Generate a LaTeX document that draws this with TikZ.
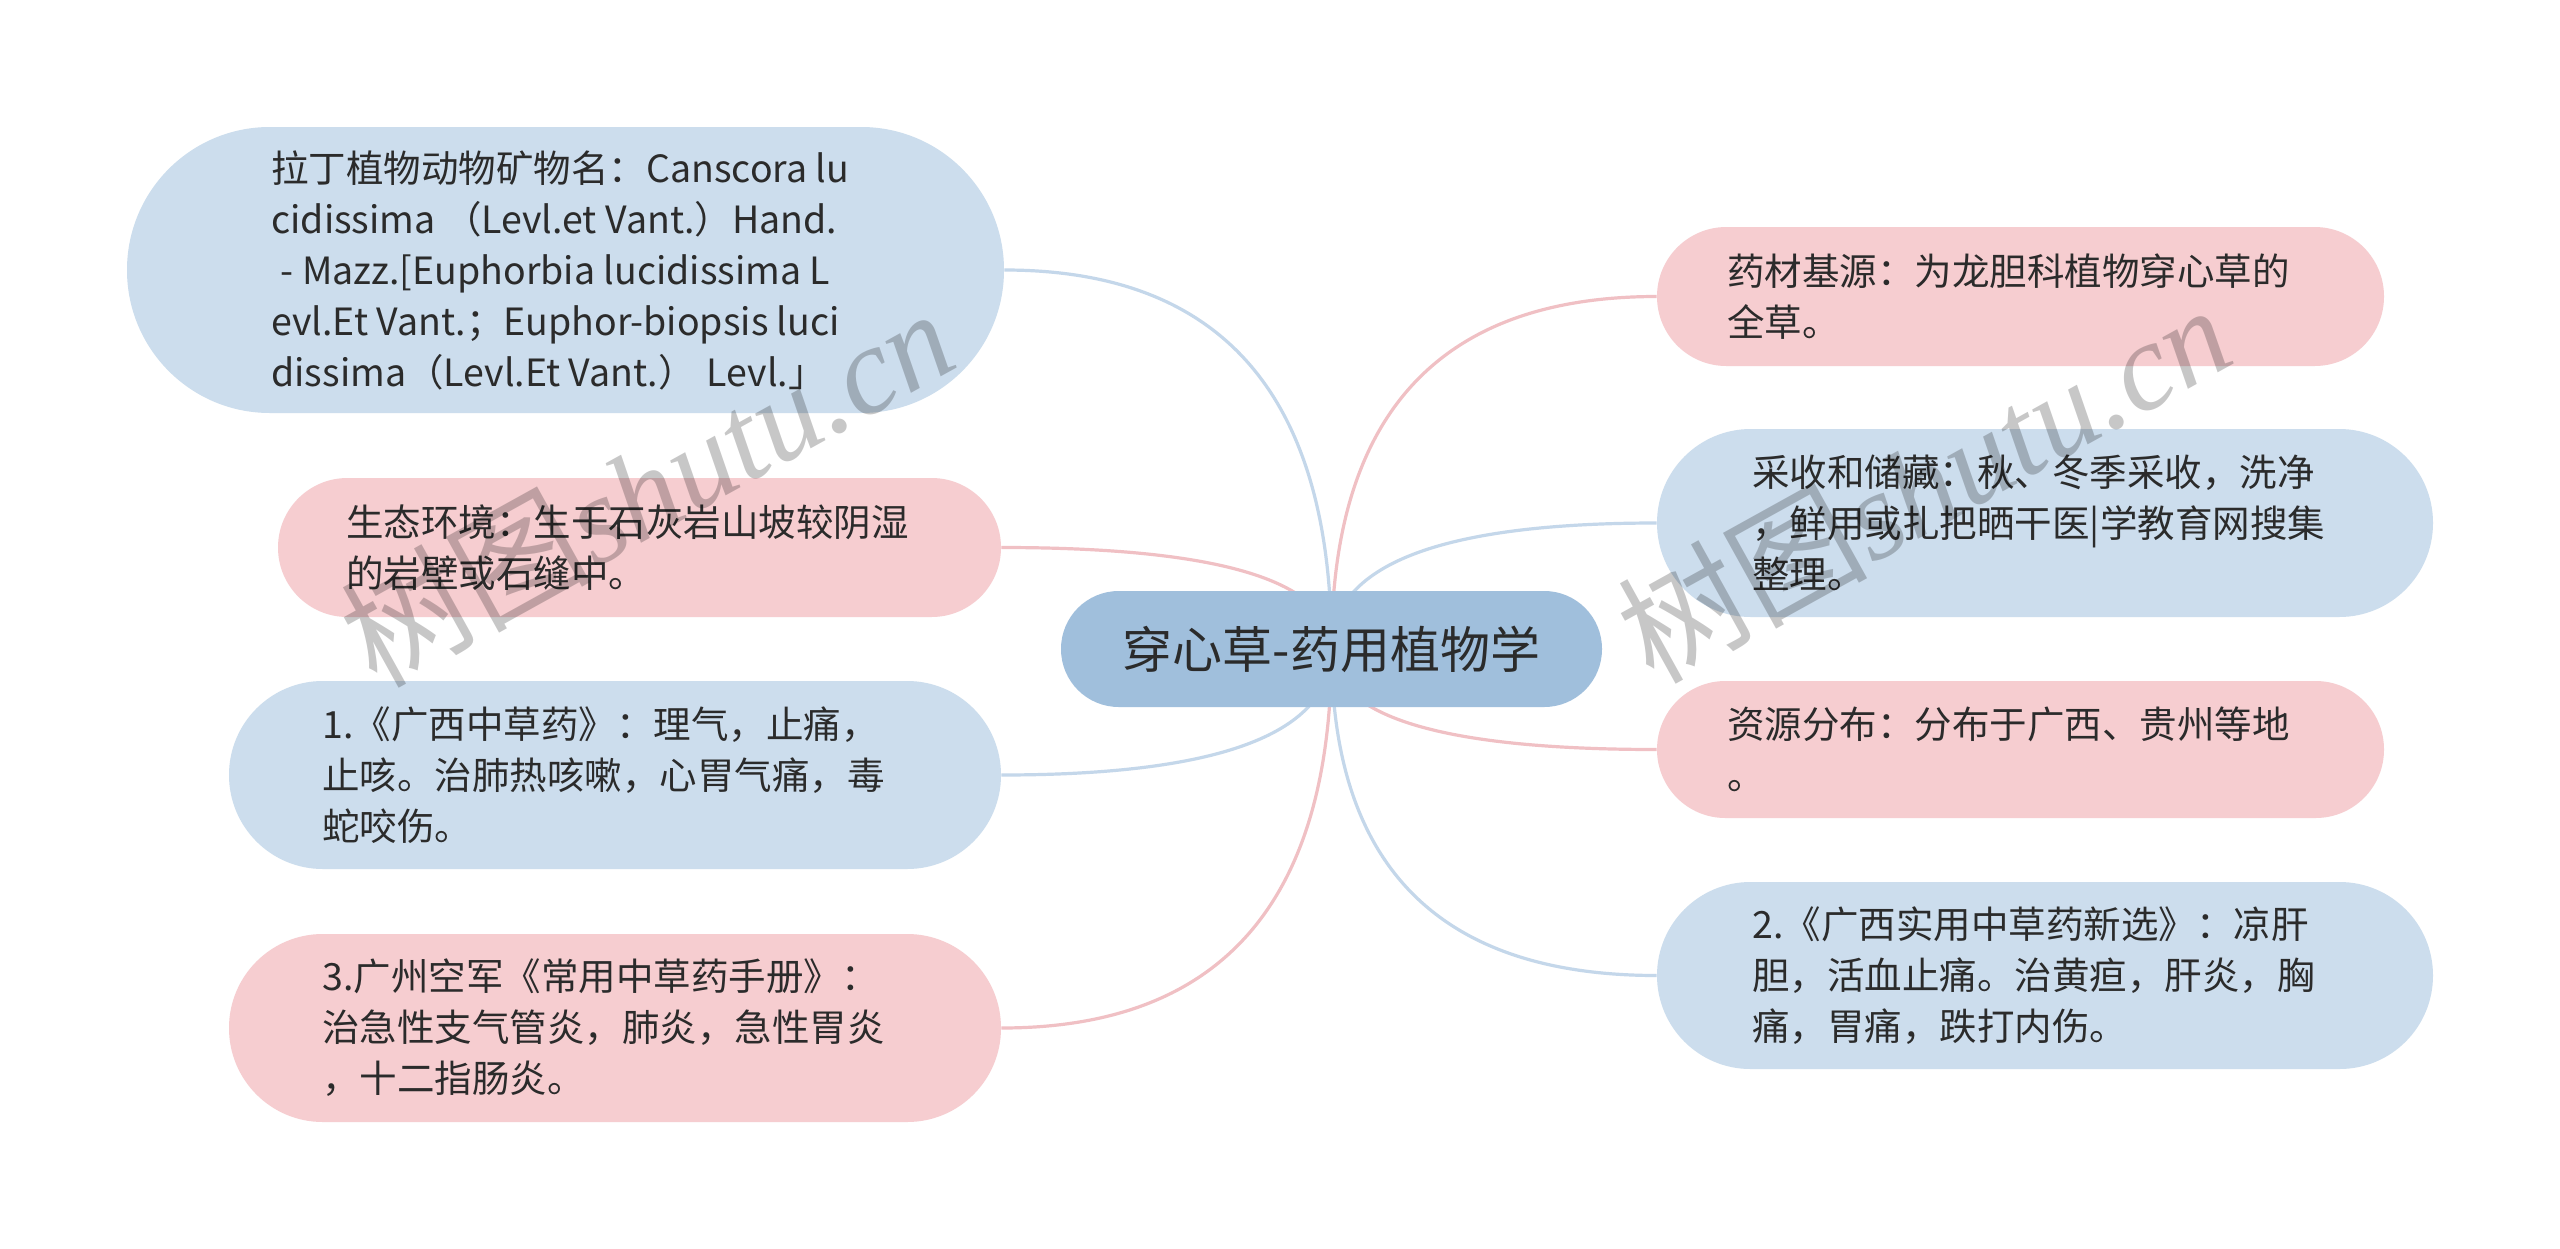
\documentclass[tikz,border=0pt]{standalone}
\usepackage{fontspec}
\setmainfont{Noto Sans CJK SC}
\newfontfamily\wmcjk{Noto Sans CJK SC}
\newfontfamily\wmlat{Liberation Serif}
\usetikzlibrary{calc,backgrounds}
\definecolor{nodeblue}{HTML}{CCDDED}
\definecolor{nodepink}{HTML}{F6CDD0}
\definecolor{rootblue}{HTML}{A0BFDC}
\definecolor{lineblue}{HTML}{C4D7EA}
\definecolor{linepink}{HTML}{F0C0C4}
\definecolor{txtcol}{HTML}{2B2B2B}
\newcommand\mmlink[3]{\draw[link,#1] (#2.center) .. controls ($(#2.center)!0.667!(#2.center|-#3)$) and ($(#3)!0.667!(#2.center|-#3)$) .. (#3);}
\begin{document}
\begin{tikzpicture}[x=0.5pt,y=-0.5pt,
  pill/.style={draw=none, rectangle, inner sep=0pt},
  bluepill/.style={pill, fill=nodeblue},
  pinkpill/.style={pill, fill=nodepink},
  body/.style={anchor=west, align=left, inner sep=0pt, text=txtcol, font=\fontsize{18.75pt}{25.5pt}\selectfont},
  link/.style={line width=1.6pt},
  wm/.style={rotate=29, anchor=base west, inner sep=0pt, text=black, text opacity=0.22}
]
\useasboundingbox (0,0) rectangle (2560,1248);

% root
\node[pill, fill=rootblue, minimum width=270.5pt, minimum height=58pt, rounded corners=28.9pt,
      text=txtcol, font=\fontsize{25pt}{30pt}\selectfont] (root) at (1331.5,649) {穿心草-药用植物学};

% left side
\node[bluepill, minimum width=438.5pt, minimum height=143pt, rounded corners=71.4pt] (lat) at (565.5,270) {};
\node[body] (latT) at (271,270) {拉丁植物动物矿物名：Canscora lu\\cidissima （Levl.et Vant.）Hand.\\\hspace{0.25em}- Mazz.[Euphorbia lucidissima L\\evl.Et Vant.；Euphor-biopsis luci\\dissima（Levl.Et Vant.） Levl.」};

\node[pinkpill, minimum width=361.5pt, minimum height=69.5pt, rounded corners=34.7pt] (eco) at (639.5,547.5) {};
\node[body] (ecoT) at (346,547.5) {生态环境：生于石灰岩山坡较阴湿\\的岩壁或石缝中。};

\node[bluepill, minimum width=386pt, minimum height=94pt, rounded corners=46.9pt] (gx) at (615,775) {};
\node[body] (gxT) at (322,775) {1.《广西中草药》：理气，止痛，\\止咳。治肺热咳嗽，心胃气痛，毒\\蛇咬伤。};

\node[pinkpill, minimum width=386pt, minimum height=94pt, rounded corners=46.9pt] (gz) at (615,1028) {};
\node[body] (gzT) at (322,1028) {3.广州空军《常用中草药手册》：\\治急性支气管炎，肺炎，急性胃炎\\，十二指肠炎。};

% right side
\node[pinkpill, minimum width=363.5pt, minimum height=69.5pt, rounded corners=34.7pt] (src) at (2020.5,296.5) {};
\node[body] (srcT) at (1727,296.5) {药材基源：为龙胆科植物穿心草的\\全草。};

\node[bluepill, minimum width=388pt, minimum height=94pt, rounded corners=46.9pt] (har) at (2045,523) {};
\node[body] (harT) at (1752,523) {采收和储藏：秋、冬季采收，洗净\\，鲜用或扎把晒干医|学教育网搜集\\整理。};

\node[pinkpill, minimum width=363.5pt, minimum height=68.5pt, rounded corners=34.2pt] (dis) at (2020.5,749.5) {};
\node[body] (disT) at (1727,749.5) {资源分布：分布于广西、贵州等地\\。};

\node[bluepill, minimum width=388pt, minimum height=93.5pt, rounded corners=46.7pt] (gxs) at (2045,975.5) {};
\node[body] (gxsT) at (1752,975.5) {2.《广西实用中草药新选》：凉肝\\胆，活血止痛。治黄疸，肝炎，胸\\痛，胃痛，跌打内伤。};

\begin{scope}[on background layer]
\fill[white] (0,0) rectangle (2560,1248);
\mmlink{lineblue}{root}{lat.east}
\mmlink{linepink}{root}{eco.east}
\mmlink{lineblue}{root}{gx.east}
\mmlink{linepink}{root}{gz.east}
\mmlink{linepink}{root}{src.west}
\mmlink{lineblue}{root}{har.west}
\mmlink{linepink}{root}{dis.west}
\mmlink{lineblue}{root}{gxs.west}
\end{scope}

% watermarks
\node[wm] (wm1) at (376,690) {\fontsize{62.5pt}{62.5pt}\selectfont\wmcjk 树图\wmlat\itshape shutu.cn};
\node[wm] (wm2) at (1653,686) {\fontsize{62.5pt}{62.5pt}\selectfont\wmcjk 树图\wmlat\itshape shutu.cn};
\end{tikzpicture}
\end{document}
